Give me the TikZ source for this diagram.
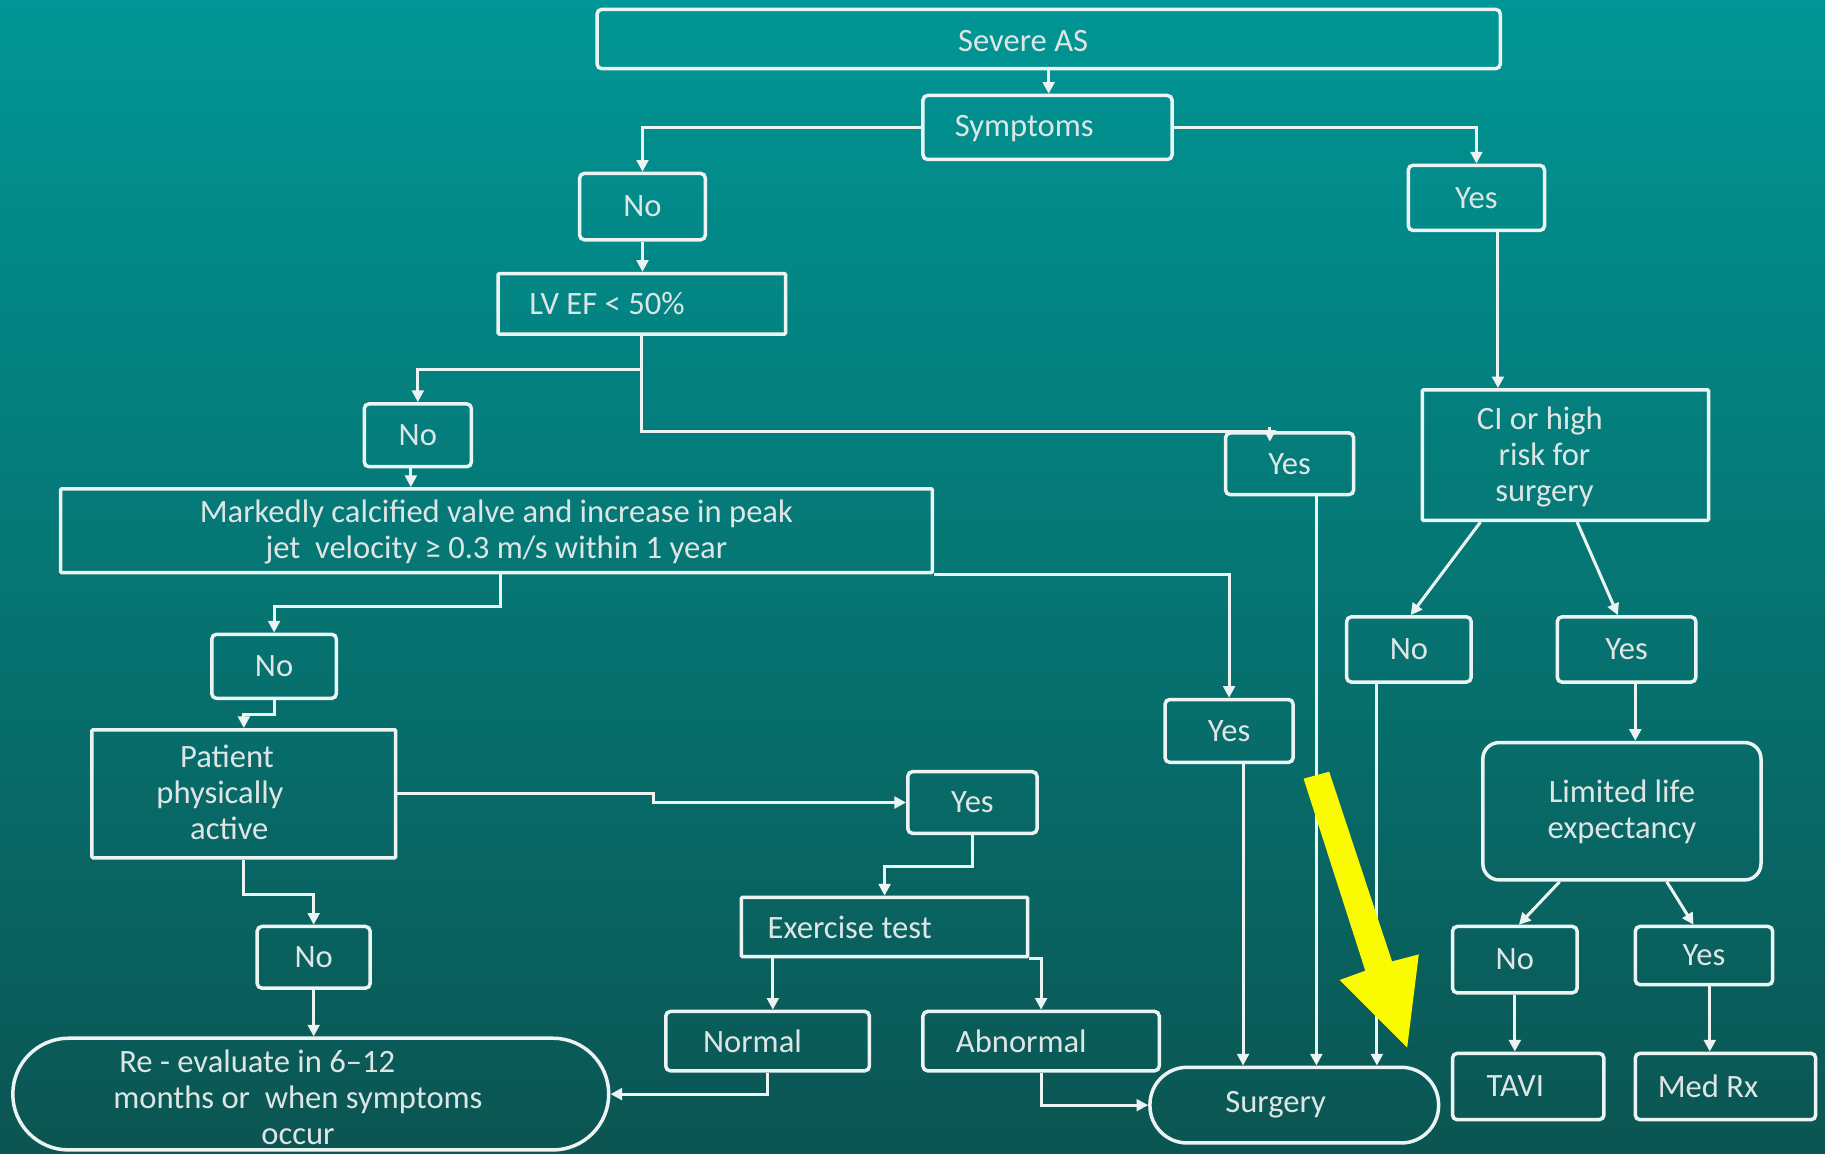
\documentclass[tikz,border=0pt]{standalone}
\usepackage{fontspec}
\setmainfont{Carlito}
\usetikzlibrary{arrows.meta,calc}
\definecolor{bgtop}{RGB}{0,150,149}
\definecolor{bgbot}{RGB}{11,85,82}
\definecolor{wline}{RGB}{236,244,243}
\definecolor{wtext}{RGB}{222,230,229}
\definecolor{yel}{RGB}{250,250,0}
\newcommand{\mlines}[1]{\begin{tabular}{@{}c@{}}#1\end{tabular}}
\newcommand{\lowr}[2]{\raisebox{-#1}[\height][\depth]{#2}}
\begin{document}
\begin{tikzpicture}[x=1pt,y=-1pt,
  box/.style={draw=wline, line width=3pt, rounded corners=4pt, text=wtext, inner sep=0pt,
              font=\fontsize{28}{31}\selectfont},
  conn/.style={draw=wline, line width=2.6pt},
  arr/.style={draw=wline, line width=2.6pt, -{Triangle[length=10pt,width=10pt]}}]
\shade[top color=bgtop, bottom color=bgbot] (0,0) rectangle (1568,991);
\useasboundingbox (0,0) rectangle (1568,991);

% nodes
\node[box, minimum width=776pt, minimum height=51pt] (sev) at (901,33.5) {\lowr{2pt}{Severe AS}\hspace*{44pt}};
\node[box, minimum width=214pt, minimum height=55pt] (sym) at (900,109.5) {\lowr{1pt}{Symptoms}\hspace*{40pt}};
\node[box, minimum width=108pt, minimum height=57pt] (no1) at (552,177.5) {No};
\node[box, minimum width=117pt, minimum height=56pt] (yes1) at (1268.5,170) {Yes};
\node[box, rounded corners=1pt, minimum width=247pt, minimum height=52pt] (lv) at (551.5,261) {LV EF < 50\%\hspace*{60pt}};
\node[box, minimum width=92pt, minimum height=54pt] (no2) at (359,374) {No};
\node[box, minimum width=110pt, minimum height=53pt] (yes2) at (1108,398.5) {Yes};
\node[box, rounded corners=1pt, minimum width=246pt, minimum height=112pt] (ci) at (1345,391) {\lowr{3pt}{\mlines{CI or high\hspace*{8pt}\\risk for\\surgery}}\hspace*{36pt}};
\node[box, rounded corners=1pt, minimum width=749pt, minimum height=72pt] (mark) at (426.5,456) {\lowr{2pt}{\mlines{Markedly calcified valve and increase in peak\\jet~ velocity ≥ 0.3 m/s within 1 year}}};
\node[box, minimum width=107pt, minimum height=55pt] (no3) at (235.5,572.5) {No};
\node[box, minimum width=110pt, minimum height=54pt] (yes3) at (1056,628) {Yes};
\node[box, minimum width=107pt, minimum height=56pt] (no4) at (1210.5,558) {No};
\node[box, minimum width=119pt, minimum height=56pt] (yes4) at (1397.5,558) {Yes};
\node[box, rounded corners=1pt, minimum width=261pt, minimum height=110pt] (pat) at (209.5,682) {\lowr{2pt}{\mlines{\hspace*{12pt}Patient\\physically\\\hspace*{16pt}active}}\hspace*{41pt}};
\node[box, minimum width=111pt, minimum height=53pt] (yes5) at (835.5,689.5) {Yes};
\node[box, rounded corners=14pt, minimum width=239pt, minimum height=118pt] (lim) at (1393.5,697) {\lowr{2pt}{\mlines{Limited life\\expectancy}}};
\node[box, rounded corners=1pt, minimum width=246pt, minimum height=51pt] (ex) at (760,796.5) {Exercise test\hspace*{60pt}};
\node[box, minimum width=97pt, minimum height=53pt] (no5) at (269.5,822.5) {No};
\node[box, minimum width=107pt, minimum height=57pt] (no6) at (1301.5,824.5) {No};
\node[box, minimum width=118pt, minimum height=50pt] (yes6) at (1464,821) {Yes};
\node[box, minimum width=175pt, minimum height=51pt] (nor) at (659.5,894.5) {Normal\hspace*{26pt}};
\node[box, minimum width=203pt, minimum height=51pt] (abn) at (894.5,894.5) {Abnormal\hspace*{34pt}};
\node[box, rounded corners=48pt, minimum width=512pt, minimum height=96pt] (re) at (267,940) {\lowr{6pt}{\mlines{Re - evaluate in 6–12\hspace*{70pt}\\months or~ when symptoms\\occur}}\hspace*{22pt}};
\node[box, rounded corners=32pt, minimum width=248pt, minimum height=65pt] (sur) at (1112,949.5) {Surgery\hspace*{32pt}};
\node[box, minimum width=130pt, minimum height=57pt] (tavi) at (1313,933.5) {TAVI\hspace*{22pt}};
\node[box, minimum width=155pt, minimum height=57pt] (med) at (1482.5,933.5) {Med Rx\hspace*{30pt}};

% connectors
\draw[arr] (sev.south) -- (sev.south |- sym.north);
\draw[arr] (sym.west) -| (no1.north);
\draw[arr] (sym.east) -| (yes1.north);
\draw[arr] (no1.south) -- (no1.south |- lv.north);
\draw[arr] (lv.south) -- ++(0,29) -| (no2.north);
\draw[conn] (lv.south) |- ([xshift=-17pt]yes2.north);
\draw[arr] ([xshift=-17pt,yshift=4pt]yes2.north) -- ([xshift=-17pt,yshift=-9pt]yes2.north);
\draw[arr] ([xshift=-6pt]no2.south) -- ([xshift=-6pt]no2.south |- mark.north);
\draw[arr] ([xshift=18.5pt]yes1.south) -- ([xshift=18.5pt]yes1.south |- ci.north);
\draw[arr] ([xshift=3.5pt]mark.south) -- ++(0,28) -| (no3.north);
\draw[arr] (mark.south east) -| (yes3.north);
\draw[arr] (no3.south) -- ++(0,12) -| (pat.north);
\draw[arr] (pat.east) -- ++(220,0) |- (yes5.west);
\draw[arr] (pat.south) -- ++(0,30) -| (no5.north);
\draw[arr] (no5.south) -- (no5.south |- re.north);
\draw[arr] (yes5.south) -- ++(0,27) -| (ex.north);
\draw[arr] ([xshift=4.5pt]nor.north |- ex.south) -- ([xshift=4.5pt]nor.north);
\draw[arr] (ex.south east) -| (abn.north);
\draw[arr] (nor.south) |- (re.east);
\draw[arr] (abn.south) |- (sur.west);
\draw[arr] ([xshift=12pt]yes3.south) -- ([xshift=12pt]yes3.south |- sur.north);
\draw[arr] ([xshift=23pt]yes2.south) -- ([xshift=23pt]yes2.south |- sur.north);
\draw[arr] ([xshift=-27.5pt]no4.south) -- ([xshift=-27.5pt]no4.south |- sur.north);
\draw[arr] ([xshift=-73pt]ci.south) -- ([xshift=1.5pt]no4.north);
\draw[arr] ([xshift=10pt]ci.south) -- ([xshift=-7.5pt]yes4.north);
\draw[arr] ([xshift=7.5pt]yes4.south) -- ([xshift=7.5pt]yes4.south |- lim.north);
\draw[arr] ([xshift=-53.5pt]lim.south) -- ([xshift=3.5pt]no6.north);
\draw[arr] ([xshift=38.5pt]lim.south) -- ([xshift=-9pt]yes6.north);
\draw[arr] (no6.south) -- (no6.south |- tavi.north);
\draw[arr] ([xshift=5pt]yes6.south) -- ([xshift=5pt]yes6.south |- med.north);

% yellow highlight arrow
\fill[yel] (1120,669) -- (1142,663) -- (1196,826) -- (1219,820) -- (1209,900) -- (1151,842) -- (1173,834) -- cycle;
\end{tikzpicture}
\end{document}
